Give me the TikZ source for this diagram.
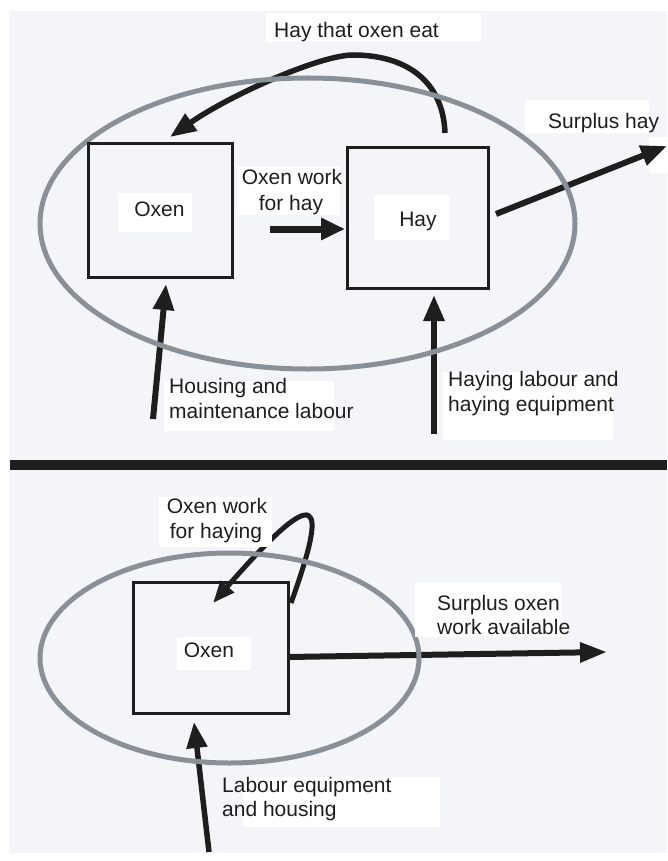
\documentclass[tikz,border=0pt]{standalone}
\usepackage{fontspec}
\setmainfont{Liberation Sans}
\usetikzlibrary{arrows.meta}
\definecolor{panelbg}{HTML}{F3F5F8}
\definecolor{ringgray}{HTML}{8A9097}
\definecolor{ink}{HTML}{1E1E1E}
\begin{document}
\begin{tikzpicture}[x=1pt,y=-1pt,
  lbl/.style={anchor=base west,inner sep=0pt,font=\fontsize{21}{25}\selectfont,text=ink},
  clbl/.style={lbl,anchor=base},
  box/.style={draw=ink,line width=3pt,inner sep=0pt},
  ring/.style={draw=ringgray,line width=5pt},
  flow/.style={draw=ink,line width=6pt,-{Triangle[length=26pt,width=20pt]}},
  wbg/.style={fill=white}]
\useasboundingbox (0,0) rectangle (667,861);
% background panels
\fill[white] (0,0) rectangle (667,861);
\fill[panelbg] (9,11) rectangle (667,460);
\fill[panelbg] (9,470) rectangle (667,853);
\fill[ink] (10,460) rectangle (667,470);
\fill[wbg] (649,137) rectangle (667,173);

% ---------- top panel ----------
\coordinate (eatS) at (445,133);
\coordinate (eatE) at (170,137);
\coordinate (owS) at (270,229);
\coordinate (owE) at (345,229);
\coordinate (shS) at (496,214);
\coordinate (shE) at (667,146);
\coordinate (hsS) at (153,419);
\coordinate (hsE) at (166,284);
\coordinate (hlS) at (434,434);
\coordinate (hlE) at (434,295);
\coordinate (ring1) at (307.5,223.5);

\draw[flow,line width=5.5pt,-{Triangle[length=26pt,width=20pt]}] (eatS) .. controls (443,80) and (405,55) .. (353,55) .. controls (320,55) and (230,95) .. (eatE);
\draw[flow,line width=7pt,-{Triangle[length=24pt,width=21pt]}] (owS) -- (owE);
\draw[flow] (shS) -- (shE);
\draw[flow] (hsS) -- (hsE);
\draw[flow] (hlS) -- (hlE);
\draw[ring] (ring1) ellipse [x radius=267.5, y radius=145.5];

\node[box,minimum width=144pt,minimum height=133pt] (oxen1) at (160,210.5) {};
\node[box,minimum width=141pt,minimum height=140pt] (hay) at (417.5,218) {};

% white label backgrounds
\fill[wbg] (266,13) rectangle (481,42);
\fill[wbg] (525,100) rectangle (649,133);
\fill[wbg] (118,193) rectangle (192,232);
\fill[wbg] (237,166) rectangle (340,215);
\fill[wbg] (374,195) rectangle (450,240);
\fill[wbg] (164,381) rectangle (334,431);
\fill[wbg] (443,372) rectangle (613,440);

\node[lbl] (t-hayeat) at (274,38) {Hay that oxen eat};
\node[lbl] (t-surhay) at (548,129) {Surplus hay};
\node[clbl] (t-oxen1) at (159.5,216) {Oxen};
\node[clbl] (t-owa) at (292,185) {Oxen work};
\node[clbl] (t-owb) at (291,210) {for hay};
\node[clbl] (t-hay) at (418,226) {Hay};
\node[lbl] (t-hsa) at (169,393) {Housing and};
\node[lbl] (t-hsb) at (169,418) {maintenance labour};
\node[lbl] (t-hla) at (448,386) {Haying labour and};
\node[lbl] (t-hlb) at (448,411) {haying equipment};

% ---------- bottom panel ----------
\coordinate (loopS) at (291,603);
\coordinate (loopE) at (213,603);
\coordinate (soS) at (288,657);
\coordinate (soE) at (607,652);
\coordinate (leS) at (209,852);
\coordinate (leE) at (194,722);
\coordinate (ring2) at (229.5,658);

\draw[flow,line width=5pt,-{Triangle[length=22pt,width=17pt]}] (loopS) .. controls (328,500) and (322,478) .. (loopE);
\draw[flow,-{Triangle[length=27pt,width=19pt]}] (soS) -- (soE);
\draw[flow,line width=5.5pt] (leS) -- (leE);
\draw[ring] (ring2) ellipse [x radius=189.5, y radius=105];

\node[box,minimum width=155pt,minimum height=131pt] (oxen2) at (210.5,647.5) {};

\fill[wbg] (159,497) rectangle (272,547);
\fill[wbg] (177,637) rectangle (251,670);
\fill[wbg] (415,583) rectangle (562,637);
\fill[wbg] (243,777) rectangle (440,827);

\node[clbl] (t-owha) at (217,513) {Oxen work};
\node[clbl] (t-owhb) at (216,538) {for haying};
\node[clbl] (t-oxen2) at (209,657) {Oxen};
\node[lbl] (t-soa) at (437,610) {Surplus oxen};
\node[lbl] (t-sob) at (437,634) {work available};
\node[lbl] (t-lea) at (222,792) {Labour equipment};
\node[lbl] (t-leb) at (222,816) {and housing};
\end{tikzpicture}
\end{document}
